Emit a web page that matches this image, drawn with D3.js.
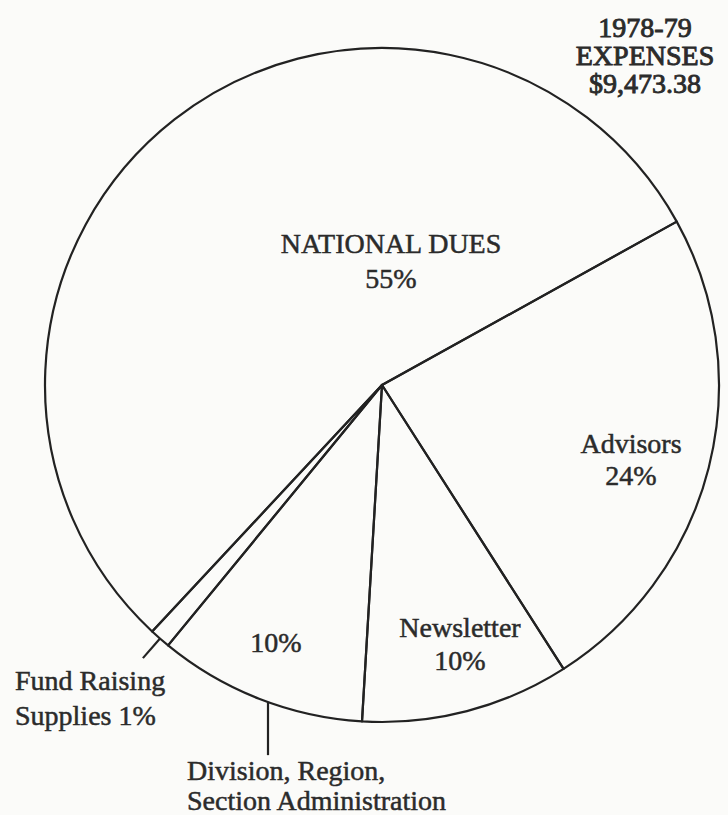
<!DOCTYPE html>
<html>
<head>
<meta charset="utf-8">
<script src="https://cdn.jsdelivr.net/npm/d3@7/dist/d3.min.js"></script>
<style>
  html, body { margin: 0; padding: 0; background: #fbfbf9; }
  svg { display: block; }
  text { font-family: "Liberation Serif", "DejaVu Serif", serif; fill: #2b2b2b; }
</style>
</head>
<body>
<script>
// ---- data ----
const categories = ["Advisors", "Newsletter", "Division, Region, Section Administration", "Fund Raising Supplies", "NATIONAL DUES"];
const percents = [24, 10, 10, 1, 55];
const titleLines = ["1978-79", "EXPENSES", "$9,473.38"];

// ---- layout ----
const W = 728, H = 815;
const cx = 382, cy = 385, R = 337;
const startDeg = 61;

const svg = d3.select("body").append("svg").attr("width", W).attr("height", H);
const g = svg.append("g").attr("transform", `translate(${cx},${cy})`);

const pie = d3.pie().sort(null).value(d => d)
  .startAngle(startDeg * Math.PI / 180)
  .endAngle(startDeg * Math.PI / 180 + 2 * Math.PI);
const arcs = pie(percents);
const arc = d3.arc().innerRadius(0).outerRadius(R);

g.selectAll("path.slice").data(arcs).enter().append("path")
  .attr("class", "slice")
  .attr("d", arc)
  .attr("fill", "none")
  .attr("stroke", "#222")
  .attr("stroke-width", 2.2)
  .attr("stroke-linejoin", "round");

// polar helper
const pt = (a, r) => [Math.sin(a) * r, -Math.cos(a) * r];

// leader for Fund Raising (radial extension beyond the rim)
const fund = arcs[3];
const fa = (fund.startAngle + fund.endAngle) / 2;
const f0 = pt(fa, R), f1 = pt(fa, R + 26);
g.append("line").attr("x1", f0[0]).attr("y1", f0[1]).attr("x2", f1[0]).attr("y2", f1[1])
  .attr("stroke", "#222").attr("stroke-width", 2.2);

// leader for Division (vertical drop from rim)
const dx = -114;
const dy0 = Math.sqrt(R * R - dx * dx);
g.append("line").attr("x1", dx).attr("y1", dy0).attr("x2", dx).attr("y2", dy0 + 53)
  .attr("stroke", "#222").attr("stroke-width", 2.2);

// ---- text ----
const fs = 28;
function label(lines, x, y, anchor, lh, size, sw) {
  const t = svg.append("text").attr("x", x).attr("y", y)
    .attr("text-anchor", anchor)
    .style("font-size", size + "px")
    .attr("stroke", "#2b2b2b").attr("stroke-width", sw);
  lines.forEach((s, i) => {
    t.append("tspan").attr("x", x).attr("dy", i === 0 ? 0 : lh).text(s);
  });
}

label(titleLines, 645, 37, "middle", 28, 28, 0.9);
label(["NATIONAL DUES", percents[4] + "%"], 391, 253, "middle", 35, fs, 0.5);
label(["Advisors", percents[0] + "%"], 631, 453, "middle", 32, fs, 0.5);
label(["Newsletter", percents[1] + "%"], 460, 637, "middle", 33, fs, 0.5);
label([percents[2] + "%"], 276, 652, "middle", 32, fs, 0.5);
label(["Fund Raising", "Supplies " + percents[3] + "%"], 15, 690, "start", 35, fs, 0.5);
label(["Division, Region,", "Section Administration"], 187, 780, "start", 30, fs, 0.5);
</script>
</body>
</html>
